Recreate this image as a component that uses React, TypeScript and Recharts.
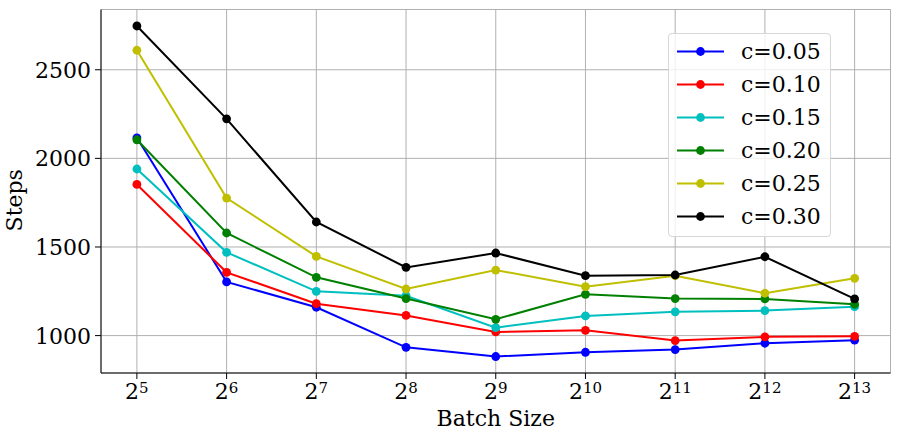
import React from "react";
import { CartesianGrid, Line, LineChart, XAxis, YAxis } from "recharts";

// batch size exponents (2^5 .. 2^13) and steps
const exponents = [5, 6, 7, 8, 9, 10, 11, 12, 13];
const stepsC005 = [2116, 1303, 1160, 934, 882, 906, 921, 957, 974];
const stepsC010 = [1853, 1357, 1180, 1114, 1021, 1030, 972, 993, 996];
const stepsC015 = [1940, 1470, 1250, 1225, 1045, 1111, 1134, 1141, 1163];
const stepsC020 = [2105, 1579, 1329, 1209, 1092, 1233, 1209, 1207, 1177];
const stepsC025 = [2610, 1776, 1447, 1263, 1370, 1276, 1338, 1239, 1323];
const stepsC030 = [2747, 2223, 1641, 1385, 1466, 1338, 1342, 1445, 1207];

const seriesNames = ["c=0.05", "c=0.10", "c=0.15", "c=0.20", "c=0.25", "c=0.30"];
const seriesColors = ["#0000ff", "#ff0000", "#00bfbf", "#008000", "#bfbf00", "#000000"];
const seriesValues = [stepsC005, stepsC010, stepsC015, stepsC020, stepsC025, stepsC030];

const yTicks = [1000, 1500, 2000, 2500];

const FONT = "'DejaVu Serif', serif";

const data = exponents.map((e, i) => {
  const row: Record<string, number> = { x: e };
  seriesNames.forEach((name, s) => {
    row[name] = seriesValues[s][i];
  });
  return row;
});

function PowerTick({ x, y, payload }: any) {
  return (
    <text x={x} y={y + 18} textAnchor="middle" fontFamily={FONT} fontSize={22} fill="#000">
      <tspan>2</tspan>
      <tspan fontSize={15} dy={-6.5}>
        {payload.value}
      </tspan>
    </text>
  );
}

function StepsTick({ x, y, payload }: any) {
  return (
    <text x={x} y={y} dy="0.36em" textAnchor="end" fontFamily={FONT} fontSize={22} fill="#000">
      {payload.value}
    </text>
  );
}

function ChartLegend() {
  return (
    <div
      style={{
        position: "absolute",
        left: 668,
        top: 33,
        width: 163,
        height: 204,
        boxSizing: "border-box",
        border: "1px solid #d6d6d6",
        borderRadius: 4,
        background: "rgba(255,255,255,0.8)",
        paddingTop: 1,
      }}
    >
      {seriesNames.map((name, i) => (
        <div key={name} style={{ display: "flex", alignItems: "center", height: 33 }}>
          <svg width={64} height={33} style={{ flex: "none" }}>
            <line x1={8} x2={55} y1={16.5} y2={16.5} stroke={seriesColors[i]} strokeWidth={2} />
            <circle cx={31.5} cy={16.5} r={4.4} fill={seriesColors[i]} />
          </svg>
          <span style={{ fontFamily: FONT, fontSize: 22, color: "#000", marginLeft: 8, lineHeight: "33px" }}>
            {name}
          </span>
        </div>
      ))}
    </div>
  );
}

export default function App() {
  return (
    <div style={{ position: "absolute", left: 0, top: 0, width: 899, height: 439, background: "#fff" }}>
      <LineChart width={899} height={439} data={data} margin={{ top: 9.5, right: 8.5, left: 0, bottom: 0 }}>
        <CartesianGrid stroke="#b0b0b0" strokeWidth={1} />
        <XAxis
          dataKey="x"
          type="number"
          domain={[4.6, 13.4]}
          ticks={exponents}
          height={66}
          tick={<PowerTick />}
          tickSize={6}
          tickMargin={2}
          stroke="#000"
          interval={0}
          label={{
            content: ({ viewBox }: any) => (
              <text
                x={viewBox.x + viewBox.width / 2}
                y={viewBox.y + 53}
                textAnchor="middle"
                fontFamily={FONT}
                fontSize={22}
                fill="#000"
              >
                Batch Size
              </text>
            ),
          }}
        />
        <XAxis xAxisId="top" orientation="top" type="number" domain={[4.6, 13.4]} height={0} tick={false} tickLine={false} stroke="#000" />
        <YAxis
          type="number"
          domain={[789, 2840]}
          ticks={yTicks}
          width={101}
          tick={<StepsTick />}
          tickSize={6}
          tickMargin={4}
          stroke="#000"
          interval={0}
          label={{
            content: ({ viewBox }: any) => {
              const cy = viewBox.y + viewBox.height / 2 + 9;
              return (
                <text
                  x={22}
                  y={cy}
                  transform={`rotate(-90, 22, ${cy})`}
                  textAnchor="middle"
                  fontFamily={FONT}
                  fontSize={22}
                  fill="#000"
                >
                  Steps
                </text>
              );
            },
          }}
        />
        <YAxis yAxisId="right" orientation="right" type="number" domain={[789, 2840]} width={0} tick={false} tickLine={false} stroke="#000" />
        {seriesNames.map((name, i) => (
          <Line
            key={name}
            dataKey={name}
            stroke={seriesColors[i]}
            strokeWidth={2}
            dot={{ r: 4.4, fill: seriesColors[i], stroke: seriesColors[i], strokeWidth: 0 }}
            activeDot={false}
            isAnimationActive={false}
          />
        ))}
      </LineChart>
      <ChartLegend />
    </div>
  );
}
